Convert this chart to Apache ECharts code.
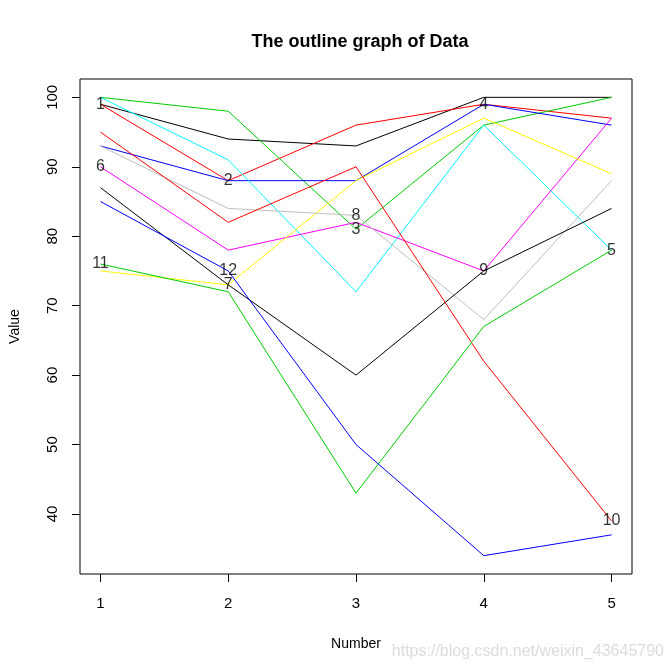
<!DOCTYPE html>
<html>
<head>
<meta charset="utf-8">
<script src="https://cdn.jsdelivr.net/npm/echarts@6/dist/echarts.min.js"></script>
<style>html,body{margin:0;padding:0;background:#fff}#c{width:672px;height:672px}</style>
</head>
<body>
<div id="c"></div>
<script>
const numbers = [1, 2, 3, 4, 5];
const yTicks = [40, 50, 60, 70, 80, 90, 100];
const lineNames = ['1','2','3','4','5','6','7','8','9','10','11','12'];
const s1  = [99, 94, 93, 100, 100];
const s2  = [99, 88, 96, 99, 97];
const s3  = [100, 98, 81, 96, 100];
const s4  = [93, 88, 88, 99, 96];
const s5  = [100, 91, 72, 96, 78];
const s6  = [90, 78, 82, 75, 97];
const s7  = [75, 73, 88, 97, 89];
const s8  = [93, 84, 83, 68, 88];
const s9  = [87, 73, 60, 75, 84];
const s10 = [95, 82, 90, 62, 39];
const s11 = [76, 72, 43, 67, 78];
const s12 = [85, 75, 50, 34, 37];
const allSeries = [s1,s2,s3,s4,s5,s6,s7,s8,s9,s10,s11,s12];
const palette = ['#000000','#FF0000','#00CD00','#0000FF','#00FFFF','#FF00FF','#FFFF00','#BEBEBE'];
const FONT = 'Liberation Sans, Arial, sans-serif';

const series = allSeries.map((vals, i) => ({
  type: 'line',
  data: vals.map((v, j) => [numbers[j], v]),
  symbol: 'none',
  silent: true,
  animation: false,
  lineStyle: { color: palette[i % palette.length], width: 1 },
  z: 2
}));

const labelData = allSeries.map((vals, i) => {
  const j = i % numbers.length;
  return { value: [numbers[j], vals[j]], name: lineNames[i] };
});
series.push({
  type: 'scatter',
  data: labelData,
  symbolSize: 2,
  itemStyle: { color: 'rgba(0,0,0,0)' },
  animation: false,
  silent: true,
  z: 5,
  labelLayout: { hideOverlap: false },
  label: {
    show: true, position: 'inside', formatter: p => p.name,
    color: '#000', fontSize: 16, fontFamily: FONT
  }
});

const chart = echarts.init(document.getElementById('c'), null, { renderer: 'canvas' });
chart.setOption({
  backgroundColor: '#fff',
  animation: false,
  title: {
    text: 'The outline graph of Data', left: 355, textAlign: 'center', top: 28,
    textStyle: { fontSize: 18, fontWeight: 'bold', color: '#000', fontFamily: FONT }
  },
  grid: { left: 78, top: 79, width: 554, height: 495, show: true, borderColor: '#000', borderWidth: 1, backgroundColor: 'transparent' },
  xAxis: {
    type: 'value', min: 0.84, max: 5.16,
    name: 'Number', nameLocation: 'middle', nameGap: 63,
    nameTextStyle: { fontSize: 14, color: '#000', fontFamily: FONT },
    axisLine: { show: false },
    axisTick: { show: true, inside: false, length: 8, lineStyle: { color: '#000' }, customValues: numbers },
    axisLabel: { show: true, margin: 22, fontSize: 15, color: '#000', fontFamily: FONT, customValues: numbers, formatter: v => String(v) },
    splitLine: { show: false }
  },
  yAxis: {
    type: 'value', min: 31.36, max: 102.64,
    name: 'Value', nameLocation: 'middle', nameGap: 58,
    nameTextStyle: { fontSize: 14, color: '#000', fontFamily: FONT },
    axisLine: { show: false },
    axisTick: { show: true, inside: false, length: 8, lineStyle: { color: '#000' }, customValues: yTicks },
    axisLabel: { show: true, rotate: 90, margin: 20, fontSize: 15, color: '#000', fontFamily: FONT, customValues: yTicks, formatter: v => String(v) },
    splitLine: { show: false }
  },
  graphic: [{
    type: 'text', right: 8, bottom: 12,
    style: { text: 'https://blog.csdn.net/weixin_43645790', fill: '#dcdcdc', fontSize: 16, fontFamily: FONT }
  }],
  series: series
});
</script>
</body>
</html>
